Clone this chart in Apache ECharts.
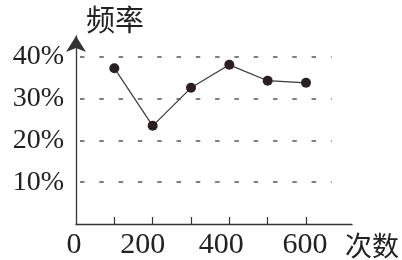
<!DOCTYPE html>
<html>
<head>
<meta charset="utf-8">
<script src="https://cdn.jsdelivr.net/npm/echarts@6/dist/echarts.min.js"></script>
<style>
html,body{margin:0;padding:0;background:#fff;}
#c{width:402px;height:260px;}
</style>
</head>
<body>
<div id="c"></div>
<script>
// ---- data ----
var trials = [100, 200, 300, 400, 500, 600];          // 次数
var freq = [37.3, 23.5, 32.6, 38.1, 34.3, 33.8];      // 频率 (%)
var xTickValues = [100, 200, 300, 400, 500, 600];
var xLabelValues = [0, 200, 400, 600];
var yTickValues = [10, 20, 30, 40];
var gridLineEnd = 667;   // dashed reference lines stop here (x value)

// ---- styling helpers ----
var labelShift = {0: 2, 200: 10, 400: 8, 600: 1}; // px shift to the left, as in the print
var rich = {};
xLabelValues.forEach(function (v) {
  rich['s' + v] = {
    fontFamily: 'Liberation Serif', fontSize: 30, color: '#222',
    padding: [0, 2 * (labelShift[v] || 0), 0, 0]
  };
});

var dashData = yTickValues.map(function (v) {
  return [{coord: [0, v]}, {coord: [gridLineEnd, v]}];
});

var chart = echarts.init(document.getElementById('c'), null, {renderer: 'canvas'});
chart.setOption({
  animation: false,
  backgroundColor: '#fff',
  grid: {left: 76, right: 48, top: 36, bottom: 36, containLabel: false},
  xAxis: {
    type: 'value', min: 0, max: 720, interval: 100,
    name: '次数', nameLocation: 'end', nameGap: -7,
    nameTextStyle: {fontFamily: 'Noto Sans CJK SC', fontSize: 27, color: '#222',
      align: 'left', verticalAlign: 'top', padding: [8, 0, 0, 0]},
    axisLine: {show: true, lineStyle: {color: '#333', width: 1.3}},
    axisTick: {show: true, customValues: xTickValues, inside: true, length: 7,
      lineStyle: {color: '#333', width: 1.2}},
    axisLabel: {show: true, customValues: xLabelValues, margin: 6,
      formatter: function (v) { return '{s' + v + '|' + v + '}'; }, rich: rich},
    splitLine: {show: false}
  },
  yAxis: {
    type: 'value', min: 0, max: 45, interval: 10,
    name: '频率', nameLocation: 'end', nameGap: 2,
    nameTextStyle: {fontFamily: 'Noto Sans CJK SC', fontSize: 29, color: '#222',
      align: 'left', verticalAlign: 'bottom', padding: [0, 0, 0, 10]},
    axisLine: {show: true, symbol: ['none', 'arrow'], symbolSize: [15, 16],
      lineStyle: {color: '#333', width: 1.3}},
    axisTick: {show: false},
    axisLabel: {show: true, customValues: yTickValues, margin: 12,
      fontFamily: 'Liberation Serif', fontSize: 28, color: '#222',
      formatter: function (v) { return v + '%'; }},
    splitLine: {show: false}
  },
  series: [{
    type: 'line',
    data: trials.map(function (t, i) { return [t, freq[i]]; }),
    symbol: 'circle', symbolSize: 10,
    itemStyle: {color: '#2a2020', borderWidth: 0},
    lineStyle: {color: '#3a3a3a', width: 1.2},
    markLine: {
      silent: true, symbol: ['none', 'none'], label: {show: false},
      lineStyle: {color: '#555', width: 1.5, type: [4.5, 14.8], dashOffset: 15.3},
      data: dashData
    },
    z: 3
  }]
});
</script>
</body>
</html>
